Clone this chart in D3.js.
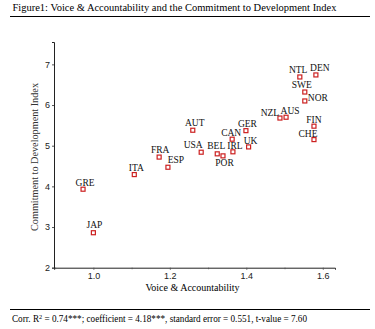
<!DOCTYPE html>
<html>
<head>
<meta charset="utf-8">
<script src="https://cdn.jsdelivr.net/npm/d3@7"></script>
<style>
body { margin: 0; background: #fff; }
svg { display: block; }
</style>
</head>
<body>
<script>
var countries = ['GRE', 'JAP', 'ITA', 'FRA', 'ESP', 'AUT', 'USA', 'BEL', 'POR', 'IRL', 'CAN', 'GER', 'UK',
    'NZL', 'AUS', 'NTL', 'DEN', 'SWE', 'NOR', 'FIN', 'CHE'];
var voice = [0.973, 1.0, 1.107, 1.172, 1.195, 1.26, 1.282, 1.324, 1.339, 1.365, 1.363, 1.399, 1.406,
    1.488, 1.504, 1.54, 1.582, 1.553, 1.553, 1.577, 1.577];
var cdi = [3.93, 2.86, 4.29, 4.72, 4.47, 5.38, 4.84, 4.80, 4.75, 4.85, 5.16, 5.37, 4.97,
    5.68, 5.70, 6.69, 6.74, 6.32, 6.10, 5.48, 5.15];
var xTicks = [1.0, 1.2, 1.4, 1.6];
var yTicks = [2, 3, 4, 5, 6, 7];

var title = 'Figure1: Voice & Accountability and the Commitment to Development Index';
var xTitle = 'Voice & Accountability';
var yTitle = 'Commitment to Development Index';

// label nudges (px) relative to each marker: [dx, dy of baseline]
var nudge = {
    GRE: [2, -3.5], JAP: [1, -4.7], ITA: [2, -3.6], FRA: [1, -4], ESP: [8, -4], AUT: [2, -4.3],
    USA: [-8, -4.3], BEL: [-1, -4.7], POR: [1.5, 10], IRL: [2, -2.7], CAN: [-1, -3.3], GER: [1.5, -3.7],
    UK: [2, -3.3], NZL: [-10, -2.3], AUS: [4, -3.3], NTL: [-1.7, -4], DEN: [4, -4], SWE: [-3, -3.7],
    NOR: [13, -0.3], FIN: [0, -2.7], CHE: [-6, -2.7]
};

var width = 375;
var height = 329;
var serif = '"Liberation Serif", "Times New Roman", serif';
var sans = '"Liberation Sans", Arial, sans-serif';

var svg = d3.select('body').append('svg')
    .attr('width', width)
    .attr('height', height);

var x = d3.scaleLinear().domain([0.897, 1.632]).range([54, 335]);
var y = d3.scaleLinear().domain([2, 7.55]).range([267.7, 42]);

// title and rules
svg.append('text')
    .attr('x', 12.5)
    .attr('y', 10.5)
    .attr('font-family', serif)
    .attr('font-size', 10.5)
    .attr('textLength', 324)
    .attr('lengthAdjust', 'spacingAndGlyphs')
    .text(title);

svg.append('line')
    .attr('x1', 10).attr('x2', 370)
    .attr('y1', 16.5).attr('y2', 16.5)
    .attr('stroke', '#000');

svg.append('line')
    .attr('x1', 10).attr('x2', 370)
    .attr('y1', 309.5).attr('y2', 309.5)
    .attr('stroke', '#000');

var foot = svg.append('text')
    .attr('x', 12)
    .attr('y', 321.5)
    .attr('font-family', serif)
    .attr('font-size', 9.5)
    .attr('textLength', 295)
    .attr('lengthAdjust', 'spacingAndGlyphs');
foot.append('tspan').text('Corr. R');
foot.append('tspan').attr('dy', -3).attr('font-size', 6.5).text('2');
foot.append('tspan').attr('dy', 3).text(' = 0.74***; coefficient = 4.18***, standard error = 0.551, t-value = 7.60');

// axes
svg.append('g')
    .attr('transform', 'translate(0,' + y(2) + ')')
    .call(d3.axisBottom(x).tickValues(xTicks).tickFormat(d3.format('.1f')).tickSize(2).tickPadding(3));

svg.append('g')
    .attr('transform', 'translate(0,' + y(2) + ')')
    .call(d3.axisBottom(x).tickValues([0.9, 1.1, 1.3, 1.5]).tickFormat('').tickSize(1.5))
    .select('.domain').remove();

svg.append('g')
    .attr('transform', 'translate(' + x.range()[0] + ',0)')
    .call(d3.axisLeft(y).tickValues(yTicks).tickFormat(d3.format('d')).tickSize(2).tickPadding(2));

svg.selectAll('.tick text')
    .attr('font-family', sans)
    .attr('font-size', 9)
    .attr('fill', '#222');
svg.selectAll('.domain').attr('stroke', '#222');
svg.selectAll('.tick line').attr('stroke', '#555');

svg.append('text')
    .attr('x', 192.5)
    .attr('y', 290.5)
    .attr('text-anchor', 'middle')
    .attr('font-family', serif)
    .attr('font-size', 10)
    .text(xTitle);

svg.append('text')
    .attr('transform', 'translate(37.5,157) rotate(-90)')
    .attr('text-anchor', 'middle')
    .attr('font-family', serif)
    .attr('font-size', 10)
    .attr('fill', '#333')
    .attr('textLength', 148)
    .attr('lengthAdjust', 'spacingAndGlyphs')
    .text(yTitle);

// markers and labels
var pts = svg.append('g');
for (let i = 0; i < countries.length; i++) {
    var cx = x(voice[i]);
    var cy = y(cdi[i]);
    pts.append('rect')
        .attr('x', cx - 2)
        .attr('y', cy - 2)
        .attr('width', 4)
        .attr('height', 4)
        .attr('fill', 'none')
        .attr('stroke', '#cc2020')
        .attr('stroke-width', 1.2);

    var n = nudge[countries[i]];
    pts.append('text')
        .attr('x', cx + n[0])
        .attr('y', cy + n[1])
        .attr('text-anchor', 'middle')
        .attr('font-family', serif)
        .attr('font-size', 9.5)
        .attr('fill', '#111')
        .text(countries[i]);
}
</script>
</body>
</html>
